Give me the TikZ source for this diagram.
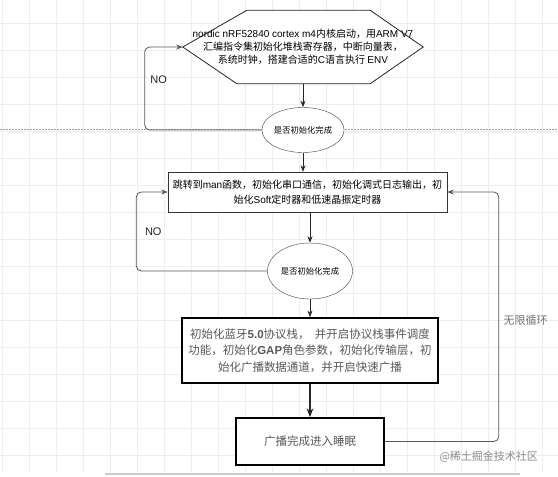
\documentclass[tikz,border=0pt]{standalone}
\usepackage{fontspec}
\setmainfont{Noto Sans CJK SC}
\newfontfamily\arialfont{Liberation Sans}
\usetikzlibrary{arrows.meta, positioning, shapes.geometric}

\begin{document}
\begin{tikzpicture}[
    x=1pt, y=-1pt,
    hexa/.style={align=center, font=\fontsize{10}{13}\selectfont, inner sep=1pt},
    hexline/.style={draw=black!85, fill=white, line width=0.8pt},
    proc/.style={draw=black!80, fill=white, align=center, font=\fontsize{10}{15}\selectfont},
    boldproc/.style={draw=black, fill=white, line width=1.6pt, align=center, text=black!65, font=\fontsize{11.5}{16.5}\selectfont},
    decision/.style={draw=black!75, fill=white, ellipse, font=\fontsize{8.3}{10}\selectfont, inner sep=0pt},
    flow/.style={->, draw=black!85, line width=0.8pt},
    loopback/.style={->, draw=black!65, line width=0.8pt, rounded corners=5pt},
    >=Stealth
]
    % canvas
    \fill[white] (0,0) rectangle (558,477);
    \useasboundingbox (0,0) rectangle (558,477);
    \foreach \gx in {2,29,...,556} \draw[black!7] (\gx,0) -- (\gx,472);
    \foreach \gy in {23,50,...,472} \draw[black!7] (0,\gy) -- (558,\gy);
    \draw[black!40, dash pattern=on 1.5pt off 1.5pt] (0,129) -- (558,129);
    \draw[black!20, line width=2pt] (105,474) -- (520,474);

    \node[hexa, minimum width=240, minimum height=73] (boot) at (303,47) {};
    \draw[hexline] (boot.west) -- ([xshift=64]boot.north west) -- ([xshift=-53]boot.north east)
        -- (boot.east) -- ([xshift=-53]boot.south east) -- ([xshift=54]boot.south west) -- cycle;
    \node[hexa] (boottext) at (boot)
        {{\arialfont nordic nRF52840 cortex m4}内核启动，用{\arialfont ARM V7}\\
         汇编指令集初始化堆栈寄存器，中断向量表，\\
         系统时钟，搭建合适的{\arialfont C}语言执行 {\arialfont ENV}};
    \node[decision, minimum width=82, minimum height=45] (chk1) at (303,130) {是否初始化完成};
    \node[proc, minimum width=279, minimum height=40] (mainfn) at (307.5,192)
        {跳转到{\arialfont man}函数，初始化串口通信，初始化调式日志输出，初\\
         始化{\arialfont Soft}定时器和低速晶振定时器};
    \node[decision, minimum width=85, minimum height=56] (chk2) at (310,271) {是否初始化完成};
    \node[boldproc, minimum width=256, minimum height=65] (ble) at (310,350.5)
        {初始化蓝牙{\arialfont\bfseries 5.0}协议栈，\ \ 并开启协议栈事件调度\\
         功能，初始化{\arialfont\bfseries GAP}角色参数，初始化传输层，初\\
         始化广播数据通道，并开启快速广播};
    \node[boldproc, minimum width=148, minimum height=47] (sleep) at (310,441.5) {广播完成进入睡眠};
    \node[text=black!45, font=\fontsize{11}{13}\selectfont, anchor=west] (mark) at (436,457) {@稀土掘金技术社区};

    \draw[flow] (boot.south) -- (chk1);
    \draw[flow] (chk1) -- (chk1 |- mainfn.north);
    \draw[flow] (mainfn.south -| chk2) -- (chk2);
    \draw[flow] (chk2) -- (ble);
    \draw[flow, line width=1.3pt] (ble) -- (sleep);

    \draw[loopback] (chk1.west) -- ++(-117,0) |- node[pos=0.3, right=2pt, font=\arialfont\fontsize{11}{13}\selectfont, text=black!85] {NO} (boot.west);
    \draw[loopback] (chk2.west) -- ++(-131,0) |- node[pos=0.25, right=5pt, font=\arialfont\fontsize{11}{13}\selectfont, text=black!85] {NO} (mainfn.west);
    \draw[loopback] (sleep.east) -- ++(114,0) |- node[pos=0.243, right=1pt, text=black!55, font=\fontsize{11}{13}\selectfont] {无限循环} (mainfn.east);
\end{tikzpicture}
\end{document}
